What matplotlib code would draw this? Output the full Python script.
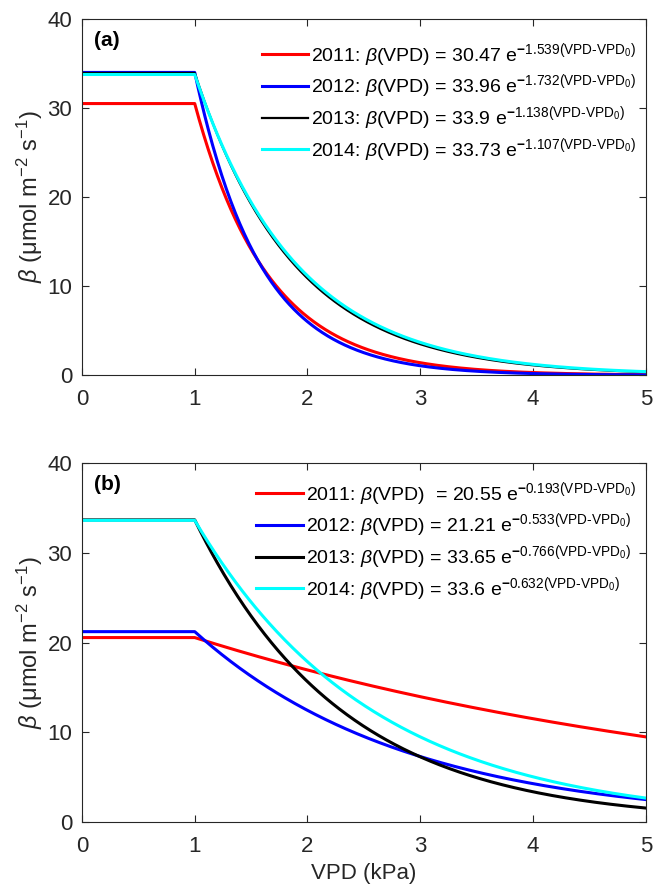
import numpy as np
import matplotlib.pyplot as plt

plt.rcParams['font.family'] = ['Liberation Sans', 'DejaVu Sans']
plt.rcParams['mathtext.fontset'] = 'custom'
plt.rcParams['mathtext.rm'] = 'Liberation Sans'
plt.rcParams['mathtext.it'] = 'Liberation Sans:italic'
plt.rcParams['mathtext.bf'] = 'Liberation Sans:bold'

years = ['2011', '2012', '2013', '2014']
colors = ['red', 'blue', 'black', 'cyan']
vpd0 = 1.0

# fitted parameters read from the legends
amp_a = [30.47, 33.96, 33.9, 33.73]
rate_a = [1.539, 1.732, 1.138, 1.107]
amp_b = [20.55, 21.21, 33.65, 33.6]
rate_b = [0.193, 0.533, 0.766, 0.632]

vpd = np.linspace(0, 5, 501)


def beta(v, a, k):
    return np.where(v <= vpd0, a, a * np.exp(-k * (v - vpd0)))


def label(year, a, k, extra=''):
    return (year + r': $\beta$(VPD)' + extra + ' = ' + str(a) +
            r' e$^{\mathbf{-}' + '%.3f' % k +
            r'\mathrm{(VPD\text{-}VPD_0)}}$')


fig = plt.figure(figsize=(6.61, 8.85), dpi=100)
ax1 = fig.add_axes([0.124, 0.576, 0.853, 0.403])
ax2 = fig.add_axes([0.124, 0.071, 0.853, 0.406])

for ax, amps, rates, tag, ly in [(ax1, amp_a, rate_a, '(a)', 0.965),
                                 (ax2, amp_b, rate_b, '(b)', 0.98)]:
    for i in range(4):
        lw = 1.6 if (ax is ax1 and i == 2) else 2.2
        extra = ' ' if (ax is ax2 and i == 0) else ''
        ax.plot(vpd, beta(vpd, amps[i], rates[i]), color=colors[i], lw=lw,
                label=label(years[i], amps[i], rates[i], extra))
    ax.set_xlim(0, 5)
    ax.set_ylim(0, 40)
    ax.set_xticks([0, 1, 2, 3, 4, 5])
    ax.set_yticks([0, 10, 20, 30, 40])
    ax.tick_params(direction='in', top=True, right=True, labelsize=16,
                   colors='#262626', length=5, width=0.8)
    ax.tick_params(axis='x', pad=10)
    ax.tick_params(axis='y', pad=7)
    for s in ax.spines.values():
        s.set_color('#262626')
        s.set_linewidth(0.8)
    ax.set_ylabel(r'$\beta$ (μmol m$^{-2}$ s$^{-1}$)', fontsize=17,
                  color='#262626', labelpad=2)
    ax.text(0.022, 0.965, tag, transform=ax.transAxes, fontsize=15,
            fontweight='bold', va='top', ha='left')
    ax.legend(loc='upper right', bbox_to_anchor=(1.0, ly), frameon=False,
              fontsize=14, handlelength=2.4, handletextpad=0.15,
              labelspacing=0.2, borderaxespad=0.1)

ax2.set_xlabel('VPD (kPa)', fontsize=16, color='#262626', labelpad=4)

fig.savefig('out.png', dpi=100)
